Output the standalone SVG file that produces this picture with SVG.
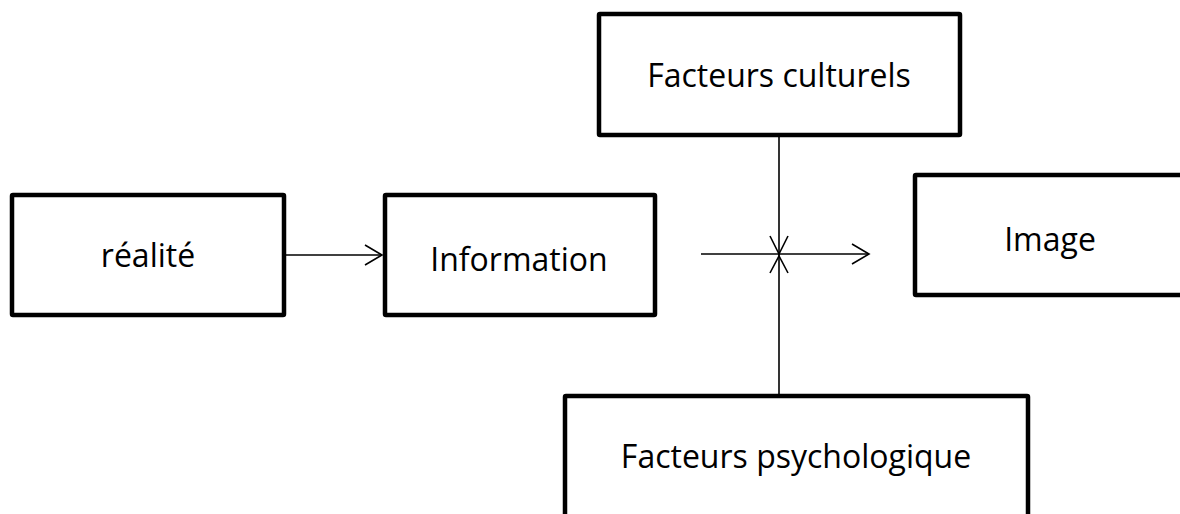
<svg xmlns="http://www.w3.org/2000/svg" width="1180" height="514" viewBox="0 0 1180 514">
<defs>
<style>
.box{fill:#fff;stroke:#000;stroke-width:4.5}
.lbl{font-family:"Open Sans","Liberation Sans",sans-serif;font-size:32px;fill:#000;text-anchor:middle}
.ln{fill:none;stroke:#000;stroke-width:1.6}
</style>
</defs>
<rect width="1180" height="514" fill="#fff"/>
<g id="connectors">
<line class="ln" x1="286" y1="255" x2="382" y2="255"/>
<polyline class="ln" points="365,245 382,255 365,265"/>
<line class="ln" x1="701" y1="254" x2="869" y2="254"/>
<polyline class="ln" points="852,244 869,254 852,264"/>
<line class="ln" x1="779" y1="137" x2="779" y2="394"/>
<polyline class="ln" points="770,236 779,254 788,236"/>
<polyline class="ln" points="770,273 779,256 788,273"/>
</g>
<g id="realite">
<rect class="box" x="12" y="195" width="272" height="120" rx="1"/>
<text class="lbl" x="148" y="267">réalité</text>
</g>
<g id="information">
<rect class="box" x="385" y="195" width="270" height="120" rx="1"/>
<text class="lbl" x="519" y="271">Information</text>
</g>
<g id="culturels">
<rect class="box" x="599" y="14" width="361" height="121" rx="1"/>
<text class="lbl" x="779" y="87">Facteurs culturels</text>
</g>
<g id="image">
<rect class="box" x="915" y="175" width="290" height="120" rx="1"/>
<text class="lbl" x="1050" y="251">Image</text>
</g>
<g id="psychologique">
<rect class="box" x="565" y="396" width="463" height="140" rx="1"/>
<text class="lbl" x="796" y="468">Facteurs psychologique</text>
</g>
</svg>
